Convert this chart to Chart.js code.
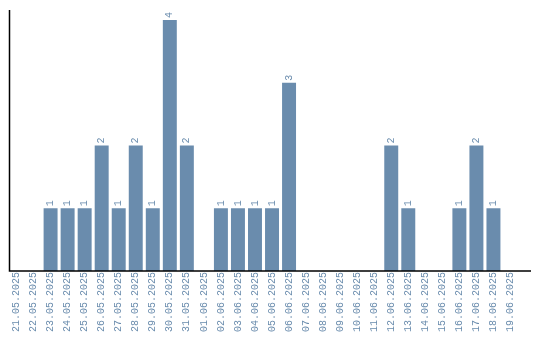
<!DOCTYPE html>
<html>
<head>
<meta charset="utf-8">
<script src="https://cdn.jsdelivr.net/npm/chart.js@4.4.1/dist/chart.umd.min.js"></script>
<style>
    html, body { margin: 0; padding: 0; background: #fff; }
    .canvas { width: 540px; height: 340px; }
</style>
</head>
<body>
<div class="canvas"><canvas id="chart"></canvas></div>
<script>
Chart.defaults.font.family = 'Liberation Mono';
Chart.defaults.font.size = 10;

const barColor = '#6a8cad';

const dates = [
    '21.05.2025', '22.05.2025', '23.05.2025', '24.05.2025', '25.05.2025',
    '26.05.2025', '27.05.2025', '28.05.2025', '29.05.2025', '30.05.2025',
    '31.05.2025', '01.06.2025', '02.06.2025', '03.06.2025', '04.06.2025',
    '05.06.2025', '06.06.2025', '07.06.2025', '08.06.2025', '09.06.2025',
    '10.06.2025', '11.06.2025', '12.06.2025', '13.06.2025', '14.06.2025',
    '15.06.2025', '16.06.2025', '17.06.2025', '18.06.2025', '19.06.2025',
];
const counts = [
    0, 0, 1, 1, 1, 2, 1, 2, 1, 4,
    2, 0, 1, 1, 1, 1, 3, 0, 0, 0,
    0, 0, 2, 1, 0, 0, 1, 2, 1, 0,
];

// value labels above the bars, rotated like the ticks
const valueLabels = {
    id: 'valueLabels',
    afterDatasetsDraw(chart) {
        const ctx = chart.ctx;
        const meta = chart.getDatasetMeta(0);
        ctx.save();
        ctx.fillStyle = barColor;
        ctx.font = '10px "Liberation Mono"';
        ctx.textAlign = 'left';
        ctx.textBaseline = 'middle';
        meta.data.forEach((bar, i) => {
            if (!counts[i]) return;
            ctx.save();
            ctx.translate(bar.x, bar.y - 2);
            ctx.rotate(-Math.PI / 2);
            ctx.fillText(String(counts[i]), 0, 0);
            ctx.restore();
        });
        ctx.restore();
    },
};

// axis lines, the bottom one runs a bit past the last category
const axisLines = {
    id: 'axisLines',
    afterDraw(chart) {
        const { ctx, chartArea } = chart;
        ctx.save();
        ctx.strokeStyle = '#000';
        ctx.lineWidth = 1.5;
        ctx.beginPath();
        ctx.moveTo(chartArea.left + 1.5, chartArea.top);
        ctx.lineTo(chartArea.left + 1.5, chartArea.bottom);
        ctx.lineTo(chartArea.right + 12, chartArea.bottom);
        ctx.stroke();
        ctx.restore();
    },
};

new Chart(document.getElementById('chart'), {
    type: 'bar',
    data: {
        labels: dates,
        datasets: [
            {
                label: 'Count',
                data: counts,
                backgroundColor: barColor,
                categoryPercentage: 1,
                barPercentage: 0.82,
            },
        ],
    },
    options: {
        responsive: true,
        maintainAspectRatio: false,
        animation: false,
        layout: {
            padding: { left: 8, right: 21, top: 10, bottom: 7 },
        },
        plugins: {
            legend: { display: false },
            tooltip: { enabled: false },
        },
        scales: {
            x: {
                grid: { display: false, drawTicks: false },
                border: { display: false },
                ticks: {
                    color: barColor,
                    minRotation: 90,
                    maxRotation: 90,
                    padding: 1,
                    autoSkip: false,
                },
            },
            y: {
                display: false,
                min: 0,
                max: 4.16,
            },
        },
    },
    plugins: [valueLabels, axisLines],
});
</script>
</body>
</html>
